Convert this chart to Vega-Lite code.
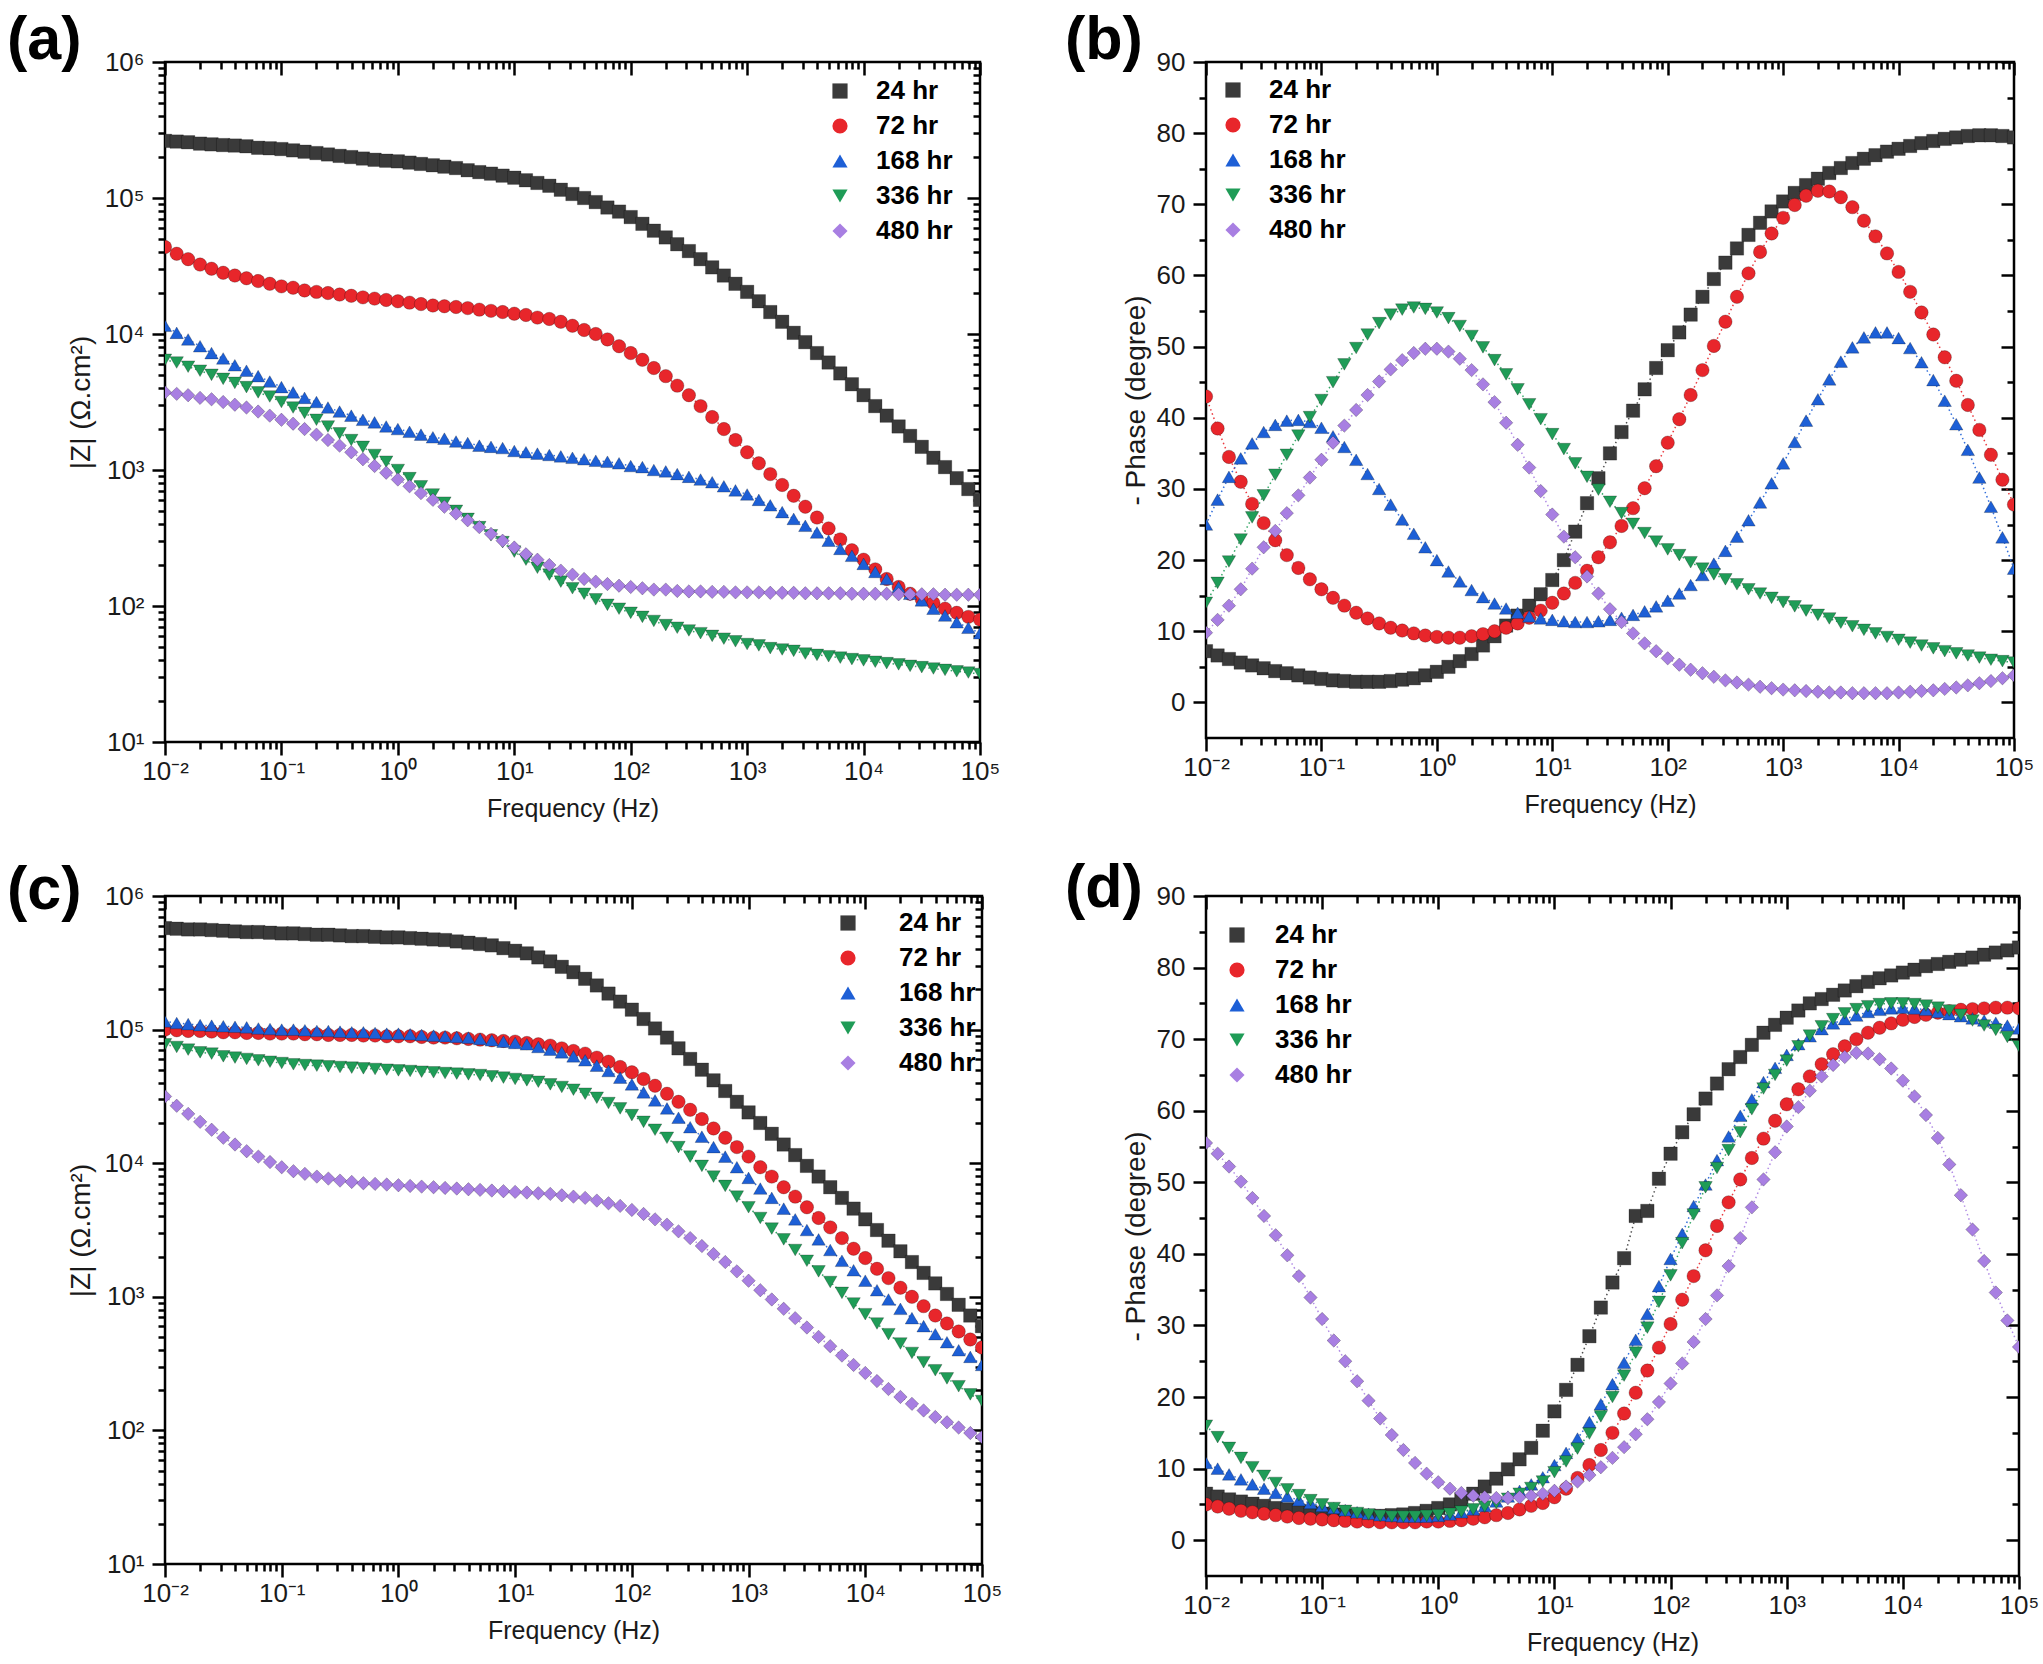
{
  "$schema": "https://vega.github.io/schema/vega-lite/v6.json",
  "usermeta": {"embedOptions": {"actions": false}},
  "background": "white",
  "padding": {"left": 5, "top": 8, "right": 10, "bottom": 10},
  "config": {
    "view": {"stroke": "#000", "strokeWidth": 2.5},
    "font": "Liberation Sans",
    "axis": {"labelFont": "Liberation Sans", "labelFontSize": 26, "labelColor": "#1a1a1a", "titleFont": "Liberation Sans", "titleFontSize": 25, "titleFontWeight": "normal", "titleColor": "#1a1a1a", "tickColor": "#000", "tickWidth": 2.5, "domain": false, "grid": false, "labelOverlap": false, "labelFlush": false, "labelPadding": 8},
    "legend": {"labelFont": "Liberation Sans", "labelFontSize": 26, "labelFontWeight": "bold", "labelColor": "#000", "symbolSize": 230, "symbolStrokeWidth": 0, "padding": 0, "labelLimit": 0, "rowPadding": 9}
  },
  "datasets": {
    "a": [
      {"s":24,"f":0.01,"v":263000},{"s":24,"f":0.0126,"v":260000},{"s":24,"f":0.0158,"v":257000},{"s":24,"f":0.02,"v":251000},{"s":24,"f":0.0251,"v":248000},{"s":24,"f":0.0316,"v":245000},{"s":24,"f":0.0398,"v":243000},{"s":24,"f":0.0501,"v":240000},{"s":24,"f":0.0631,"v":234000},{"s":24,"f":0.0794,"v":232000},
      {"s":24,"f":0.1,"v":229000},{"s":24,"f":0.126,"v":224000},{"s":24,"f":0.158,"v":219000},{"s":24,"f":0.2,"v":214000},{"s":24,"f":0.251,"v":209000},{"s":24,"f":0.316,"v":204000},{"s":24,"f":0.398,"v":200000},{"s":24,"f":0.501,"v":195000},{"s":24,"f":0.631,"v":191000},{"s":24,"f":0.794,"v":188000},
      {"s":24,"f":1,"v":186000},{"s":24,"f":1.26,"v":182000},{"s":24,"f":1.58,"v":178000},{"s":24,"f":2,"v":174000},{"s":24,"f":2.51,"v":170000},{"s":24,"f":3.16,"v":166000},{"s":24,"f":3.98,"v":160000},{"s":24,"f":5.01,"v":155000},{"s":24,"f":6.31,"v":151000},{"s":24,"f":7.94,"v":146000},
      {"s":24,"f":10,"v":141000},{"s":24,"f":12.6,"v":135000},{"s":24,"f":15.8,"v":129000},{"s":24,"f":20,"v":123000},{"s":24,"f":25.1,"v":115000},{"s":24,"f":31.6,"v":107000},{"s":24,"f":39.8,"v":100000},{"s":24,"f":50.1,"v":93300},{"s":24,"f":63.1,"v":85100},{"s":24,"f":79.4,"v":79400},
      {"s":24,"f":100,"v":72400},{"s":24,"f":126,"v":64600},{"s":24,"f":158,"v":57500},{"s":24,"f":200,"v":51300},{"s":24,"f":251,"v":45700},{"s":24,"f":316,"v":40700},{"s":24,"f":398,"v":35500},{"s":24,"f":501,"v":30900},{"s":24,"f":631,"v":26900},{"s":24,"f":794,"v":23400},
      {"s":24,"f":1000,"v":20400},{"s":24,"f":1260,"v":17400},{"s":24,"f":1580,"v":14500},{"s":24,"f":2000,"v":12300},{"s":24,"f":2510,"v":10200},{"s":24,"f":3160,"v":8710},{"s":24,"f":3980,"v":7240},{"s":24,"f":5010,"v":6170},{"s":24,"f":6310,"v":5130},{"s":24,"f":7940,"v":4270},
      {"s":24,"f":10000,"v":3550},{"s":24,"f":12600,"v":2950},{"s":24,"f":15800,"v":2510},{"s":24,"f":20000,"v":2090},{"s":24,"f":25100,"v":1780},{"s":24,"f":31600,"v":1480},{"s":24,"f":39800,"v":1230},{"s":24,"f":50100,"v":1050},{"s":24,"f":63100,"v":871},{"s":24,"f":79400,"v":724},{"s":24,"f":100000,"v":603},
      {"s":72,"f":0.01,"v":43600},{"s":72,"f":0.0126,"v":38900},{"s":72,"f":0.0158,"v":35500},{"s":72,"f":0.02,"v":32400},{"s":72,"f":0.0251,"v":30200},{"s":72,"f":0.0316,"v":28200},{"s":72,"f":0.0398,"v":26900},{"s":72,"f":0.0501,"v":25700},{"s":72,"f":0.0631,"v":24500},{"s":72,"f":0.0794,"v":23400},
      {"s":72,"f":0.1,"v":22400},{"s":72,"f":0.126,"v":21900},{"s":72,"f":0.158,"v":20900},{"s":72,"f":0.2,"v":20400},{"s":72,"f":0.251,"v":20000},{"s":72,"f":0.316,"v":19500},{"s":72,"f":0.398,"v":19100},{"s":72,"f":0.501,"v":18600},{"s":72,"f":0.631,"v":18200},{"s":72,"f":0.794,"v":17800},
      {"s":72,"f":1,"v":17400},{"s":72,"f":1.26,"v":17000},{"s":72,"f":1.58,"v":16600},{"s":72,"f":2,"v":16200},{"s":72,"f":2.51,"v":16000},{"s":72,"f":3.16,"v":15800},{"s":72,"f":3.98,"v":15500},{"s":72,"f":5.01,"v":15100},{"s":72,"f":6.31,"v":14800},{"s":72,"f":7.94,"v":14500},
      {"s":72,"f":10,"v":14100},{"s":72,"f":12.6,"v":13800},{"s":72,"f":15.8,"v":13200},{"s":72,"f":20,"v":12900},{"s":72,"f":25.1,"v":12300},{"s":72,"f":31.6,"v":11500},{"s":72,"f":39.8,"v":10700},{"s":72,"f":50.1,"v":10000},{"s":72,"f":63.1,"v":9120},{"s":72,"f":79.4,"v":8130},
      {"s":72,"f":100,"v":7240},{"s":72,"f":126,"v":6460},{"s":72,"f":158,"v":5620},{"s":72,"f":200,"v":4900},{"s":72,"f":251,"v":4170},{"s":72,"f":316,"v":3550},{"s":72,"f":398,"v":2950},{"s":72,"f":501,"v":2450},{"s":72,"f":631,"v":2000},{"s":72,"f":794,"v":1660},
      {"s":72,"f":1000,"v":1350},{"s":72,"f":1260,"v":1120},{"s":72,"f":1580,"v":933},{"s":72,"f":2000,"v":776},{"s":72,"f":2510,"v":646},{"s":72,"f":3160,"v":537},{"s":72,"f":3980,"v":447},{"s":72,"f":5010,"v":372},{"s":72,"f":6310,"v":309},{"s":72,"f":7940,"v":257},
      {"s":72,"f":10000,"v":219},{"s":72,"f":12600,"v":186},{"s":72,"f":15800,"v":158},{"s":72,"f":20000,"v":138},{"s":72,"f":25100,"v":123},{"s":72,"f":31600,"v":112},{"s":72,"f":39800,"v":105},{"s":72,"f":50100,"v":95.5},{"s":72,"f":63100,"v":89.1},{"s":72,"f":79400,"v":83.2},{"s":72,"f":100000,"v":79.4},
      {"s":168,"f":0.01,"v":11500},{"s":168,"f":0.0126,"v":10200},{"s":168,"f":0.0158,"v":9120},{"s":168,"f":0.02,"v":8130},{"s":168,"f":0.0251,"v":7240},{"s":168,"f":0.0316,"v":6610},{"s":168,"f":0.0398,"v":5890},{"s":168,"f":0.0501,"v":5370},{"s":168,"f":0.0631,"v":4900},{"s":168,"f":0.0794,"v":4470},
      {"s":168,"f":0.1,"v":4070},{"s":168,"f":0.126,"v":3720},{"s":168,"f":0.158,"v":3390},{"s":168,"f":0.2,"v":3160},{"s":168,"f":0.251,"v":2880},{"s":168,"f":0.316,"v":2690},{"s":168,"f":0.398,"v":2510},{"s":168,"f":0.501,"v":2340},{"s":168,"f":0.631,"v":2240},{"s":168,"f":0.794,"v":2090},
      {"s":168,"f":1,"v":2000},{"s":168,"f":1.26,"v":1910},{"s":168,"f":1.58,"v":1820},{"s":168,"f":2,"v":1740},{"s":168,"f":2.51,"v":1700},{"s":168,"f":3.16,"v":1620},{"s":168,"f":3.98,"v":1580},{"s":168,"f":5.01,"v":1510},{"s":168,"f":6.31,"v":1480},{"s":168,"f":7.94,"v":1450},
      {"s":168,"f":10,"v":1380},{"s":168,"f":12.6,"v":1350},{"s":168,"f":15.8,"v":1320},{"s":168,"f":20,"v":1290},{"s":168,"f":25.1,"v":1260},{"s":168,"f":31.6,"v":1230},{"s":168,"f":39.8,"v":1200},{"s":168,"f":50.1,"v":1170},{"s":168,"f":63.1,"v":1150},{"s":168,"f":79.4,"v":1120},
      {"s":168,"f":100,"v":1070},{"s":168,"f":126,"v":1050},{"s":168,"f":158,"v":1000},{"s":168,"f":200,"v":977},{"s":168,"f":251,"v":933},{"s":168,"f":316,"v":891},{"s":168,"f":398,"v":851},{"s":168,"f":501,"v":813},{"s":168,"f":631,"v":759},{"s":168,"f":794,"v":708},
      {"s":168,"f":1000,"v":661},{"s":168,"f":1260,"v":603},{"s":168,"f":1580,"v":550},{"s":168,"f":2000,"v":490},{"s":168,"f":2510,"v":437},{"s":168,"f":3160,"v":389},{"s":168,"f":3980,"v":347},{"s":168,"f":5010,"v":302},{"s":168,"f":6310,"v":263},{"s":168,"f":7940,"v":234},
      {"s":168,"f":10000,"v":204},{"s":168,"f":12600,"v":178},{"s":168,"f":15800,"v":158},{"s":168,"f":20000,"v":138},{"s":168,"f":25100,"v":123},{"s":168,"f":31600,"v":110},{"s":168,"f":39800,"v":95.5},{"s":168,"f":50100,"v":85.1},{"s":168,"f":63100,"v":75.9},{"s":168,"f":79400,"v":69.2},{"s":168,"f":100000,"v":63.1},
      {"s":336,"f":0.01,"v":6460},{"s":336,"f":0.0126,"v":6170},{"s":336,"f":0.0158,"v":5750},{"s":336,"f":0.02,"v":5370},{"s":336,"f":0.0251,"v":5010},{"s":336,"f":0.0316,"v":4680},{"s":336,"f":0.0398,"v":4370},{"s":336,"f":0.0501,"v":4070},{"s":336,"f":0.0631,"v":3720},{"s":336,"f":0.0794,"v":3470},
      {"s":336,"f":0.1,"v":3160},{"s":336,"f":0.126,"v":2880},{"s":336,"f":0.158,"v":2630},{"s":336,"f":0.2,"v":2340},{"s":336,"f":0.251,"v":2090},{"s":336,"f":0.316,"v":1860},{"s":336,"f":0.398,"v":1660},{"s":336,"f":0.501,"v":1480},{"s":336,"f":0.631,"v":1290},{"s":336,"f":0.794,"v":1150},
      {"s":336,"f":1,"v":1000},{"s":336,"f":1.26,"v":871},{"s":336,"f":1.58,"v":759},{"s":336,"f":2,"v":661},{"s":336,"f":2.51,"v":575},{"s":336,"f":3.16,"v":501},{"s":336,"f":3.98,"v":437},{"s":336,"f":5.01,"v":380},{"s":336,"f":6.31,"v":331},{"s":336,"f":7.94,"v":295},
      {"s":336,"f":10,"v":251},{"s":336,"f":12.6,"v":219},{"s":336,"f":15.8,"v":191},{"s":336,"f":20,"v":170},{"s":336,"f":25.1,"v":151},{"s":336,"f":31.6,"v":135},{"s":336,"f":39.8,"v":123},{"s":336,"f":50.1,"v":112},{"s":336,"f":63.1,"v":102},{"s":336,"f":79.4,"v":95.5},
      {"s":336,"f":100,"v":89.1},{"s":336,"f":126,"v":83.2},{"s":336,"f":158,"v":77.6},{"s":336,"f":200,"v":72.4},{"s":336,"f":251,"v":69.2},{"s":336,"f":316,"v":66.1},{"s":336,"f":398,"v":63.1},{"s":336,"f":501,"v":60.3},{"s":336,"f":631,"v":57.5},{"s":336,"f":794,"v":55},
      {"s":336,"f":1000,"v":52.5},{"s":336,"f":1260,"v":51.3},{"s":336,"f":1580,"v":49},{"s":336,"f":2000,"v":47.9},{"s":336,"f":2510,"v":46.8},{"s":336,"f":3160,"v":44.7},{"s":336,"f":3980,"v":43.7},{"s":336,"f":5010,"v":42.7},{"s":336,"f":6310,"v":41.7},{"s":336,"f":7940,"v":40.7},
      {"s":336,"f":10000,"v":39.8},{"s":336,"f":12600,"v":38.9},{"s":336,"f":15800,"v":38},{"s":336,"f":20000,"v":37.2},{"s":336,"f":25100,"v":36.3},{"s":336,"f":31600,"v":35.5},{"s":336,"f":39800,"v":34.7},{"s":336,"f":50100,"v":33.9},{"s":336,"f":63100,"v":33.1},{"s":336,"f":79400,"v":32.4},{"s":336,"f":100000,"v":31.6},
      {"s":480,"f":0.01,"v":3720},{"s":480,"f":0.0126,"v":3630},{"s":480,"f":0.0158,"v":3550},{"s":480,"f":0.02,"v":3390},{"s":480,"f":0.0251,"v":3310},{"s":480,"f":0.0316,"v":3160},{"s":480,"f":0.0398,"v":3020},{"s":480,"f":0.0501,"v":2880},{"s":480,"f":0.0631,"v":2690},{"s":480,"f":0.0794,"v":2510},
      {"s":480,"f":0.1,"v":2340},{"s":480,"f":0.126,"v":2190},{"s":480,"f":0.158,"v":2000},{"s":480,"f":0.2,"v":1820},{"s":480,"f":0.251,"v":1660},{"s":480,"f":0.316,"v":1510},{"s":480,"f":0.398,"v":1350},{"s":480,"f":0.501,"v":1200},{"s":480,"f":0.631,"v":1070},{"s":480,"f":0.794,"v":955},
      {"s":480,"f":1,"v":851},{"s":480,"f":1.26,"v":759},{"s":480,"f":1.58,"v":676},{"s":480,"f":2,"v":603},{"s":480,"f":2.51,"v":537},{"s":480,"f":3.16,"v":479},{"s":480,"f":3.98,"v":427},{"s":480,"f":5.01,"v":380},{"s":480,"f":6.31,"v":339},{"s":480,"f":7.94,"v":302},
      {"s":480,"f":10,"v":269},{"s":480,"f":12.6,"v":240},{"s":480,"f":15.8,"v":219},{"s":480,"f":20,"v":200},{"s":480,"f":25.1,"v":182},{"s":480,"f":31.6,"v":170},{"s":480,"f":39.8,"v":158},{"s":480,"f":50.1,"v":151},{"s":480,"f":63.1,"v":145},{"s":480,"f":79.4,"v":141},
      {"s":480,"f":100,"v":138},{"s":480,"f":126,"v":135},{"s":480,"f":158,"v":132},{"s":480,"f":200,"v":132},{"s":480,"f":251,"v":129},{"s":480,"f":316,"v":128},{"s":480,"f":398,"v":128},{"s":480,"f":501,"v":127},{"s":480,"f":631,"v":127},{"s":480,"f":794,"v":126},
      {"s":480,"f":1000,"v":126},{"s":480,"f":1260,"v":126},{"s":480,"f":1580,"v":125},{"s":480,"f":2000,"v":125},{"s":480,"f":2510,"v":125},{"s":480,"f":3160,"v":124},{"s":480,"f":3980,"v":124},{"s":480,"f":5010,"v":124},{"s":480,"f":6310,"v":124},{"s":480,"f":7940,"v":123},
      {"s":480,"f":10000,"v":123},{"s":480,"f":12600,"v":123},{"s":480,"f":15800,"v":123},{"s":480,"f":20000,"v":122},{"s":480,"f":25100,"v":122},{"s":480,"f":31600,"v":122},{"s":480,"f":39800,"v":122},{"s":480,"f":50100,"v":121},{"s":480,"f":63100,"v":121},{"s":480,"f":79400,"v":121},{"s":480,"f":100000,"v":121}
    ],
    "b": [
      {"s":24,"f":0.01,"v":7.2},{"s":24,"f":0.0126,"v":6.6},{"s":24,"f":0.0158,"v":6.1},{"s":24,"f":0.02,"v":5.6},{"s":24,"f":0.0251,"v":5.2},{"s":24,"f":0.0316,"v":4.8},{"s":24,"f":0.0398,"v":4.4},{"s":24,"f":0.0501,"v":4.1},{"s":24,"f":0.0631,"v":3.8},{"s":24,"f":0.0794,"v":3.5},
      {"s":24,"f":0.1,"v":3.3},{"s":24,"f":0.126,"v":3.1},{"s":24,"f":0.158,"v":3},{"s":24,"f":0.2,"v":2.9},{"s":24,"f":0.251,"v":2.9},{"s":24,"f":0.316,"v":2.9},{"s":24,"f":0.398,"v":3},{"s":24,"f":0.501,"v":3.2},{"s":24,"f":0.631,"v":3.4},{"s":24,"f":0.794,"v":3.8},
      {"s":24,"f":1,"v":4.3},{"s":24,"f":1.26,"v":5},{"s":24,"f":1.58,"v":5.8},{"s":24,"f":2,"v":6.8},{"s":24,"f":2.51,"v":8},{"s":24,"f":3.16,"v":9.3},{"s":24,"f":3.98,"v":10.8},{"s":24,"f":5.01,"v":12.2},{"s":24,"f":6.31,"v":13.6},{"s":24,"f":7.94,"v":15.2},
      {"s":24,"f":10,"v":17.2},{"s":24,"f":12.6,"v":20},{"s":24,"f":15.8,"v":24},{"s":24,"f":20,"v":28},{"s":24,"f":25.1,"v":31.5},{"s":24,"f":31.6,"v":35},{"s":24,"f":39.8,"v":38},{"s":24,"f":50.1,"v":41},{"s":24,"f":63.1,"v":44},{"s":24,"f":79.4,"v":47},
      {"s":24,"f":100,"v":49.5},{"s":24,"f":126,"v":52},{"s":24,"f":158,"v":54.5},{"s":24,"f":200,"v":57},{"s":24,"f":251,"v":59.5},{"s":24,"f":316,"v":61.8},{"s":24,"f":398,"v":63.8},{"s":24,"f":501,"v":65.7},{"s":24,"f":631,"v":67.4},{"s":24,"f":794,"v":69},
      {"s":24,"f":1000,"v":70.4},{"s":24,"f":1260,"v":71.6},{"s":24,"f":1580,"v":72.7},{"s":24,"f":2000,"v":73.6},{"s":24,"f":2510,"v":74.4},{"s":24,"f":3160,"v":75.1},{"s":24,"f":3980,"v":75.8},{"s":24,"f":5010,"v":76.4},{"s":24,"f":6310,"v":76.9},{"s":24,"f":7940,"v":77.4},
      {"s":24,"f":10000,"v":77.8},{"s":24,"f":12600,"v":78.2},{"s":24,"f":15800,"v":78.6},{"s":24,"f":20000,"v":78.9},{"s":24,"f":25100,"v":79.2},{"s":24,"f":31600,"v":79.4},{"s":24,"f":39800,"v":79.6},{"s":24,"f":50100,"v":79.7},{"s":24,"f":63100,"v":79.7},{"s":24,"f":79400,"v":79.6},{"s":24,"f":100000,"v":79.4},
      {"s":72,"f":0.01,"v":43},{"s":72,"f":0.0126,"v":38.5},{"s":72,"f":0.0158,"v":34.5},{"s":72,"f":0.02,"v":31},{"s":72,"f":0.0251,"v":27.9},{"s":72,"f":0.0316,"v":25.2},{"s":72,"f":0.0398,"v":22.8},{"s":72,"f":0.0501,"v":20.7},{"s":72,"f":0.0631,"v":18.9},{"s":72,"f":0.0794,"v":17.3},
      {"s":72,"f":0.1,"v":15.9},{"s":72,"f":0.126,"v":14.7},{"s":72,"f":0.158,"v":13.6},{"s":72,"f":0.2,"v":12.6},{"s":72,"f":0.251,"v":11.8},{"s":72,"f":0.316,"v":11.1},{"s":72,"f":0.398,"v":10.5},{"s":72,"f":0.501,"v":10.1},{"s":72,"f":0.631,"v":9.7},{"s":72,"f":0.794,"v":9.4},
      {"s":72,"f":1,"v":9.2},{"s":72,"f":1.26,"v":9.1},{"s":72,"f":1.58,"v":9.1},{"s":72,"f":2,"v":9.3},{"s":72,"f":2.51,"v":9.6},{"s":72,"f":3.16,"v":10},{"s":72,"f":3.98,"v":10.5},{"s":72,"f":5.01,"v":11.1},{"s":72,"f":6.31,"v":11.9},{"s":72,"f":7.94,"v":12.9},
      {"s":72,"f":10,"v":14},{"s":72,"f":12.6,"v":15.3},{"s":72,"f":15.8,"v":16.8},{"s":72,"f":20,"v":18.5},{"s":72,"f":25.1,"v":20.4},{"s":72,"f":31.6,"v":22.5},{"s":72,"f":39.8,"v":24.8},{"s":72,"f":50.1,"v":27.3},{"s":72,"f":63.1,"v":30.1},{"s":72,"f":79.4,"v":33.2},
      {"s":72,"f":100,"v":36.5},{"s":72,"f":126,"v":39.8},{"s":72,"f":158,"v":43.2},{"s":72,"f":200,"v":46.7},{"s":72,"f":251,"v":50.1},{"s":72,"f":316,"v":53.5},{"s":72,"f":398,"v":57},{"s":72,"f":501,"v":60.3},{"s":72,"f":631,"v":63.3},{"s":72,"f":794,"v":65.9},
      {"s":72,"f":1000,"v":68.1},{"s":72,"f":1260,"v":69.9},{"s":72,"f":1580,"v":71.2},{"s":72,"f":2000,"v":71.9},{"s":72,"f":2510,"v":71.8},{"s":72,"f":3160,"v":71},{"s":72,"f":3980,"v":69.6},{"s":72,"f":5010,"v":67.7},{"s":72,"f":6310,"v":65.5},{"s":72,"f":7940,"v":63.1},
      {"s":72,"f":10000,"v":60.5},{"s":72,"f":12600,"v":57.7},{"s":72,"f":15800,"v":54.8},{"s":72,"f":20000,"v":51.7},{"s":72,"f":25100,"v":48.5},{"s":72,"f":31600,"v":45.2},{"s":72,"f":39800,"v":41.8},{"s":72,"f":50100,"v":38.3},{"s":72,"f":63100,"v":34.8},{"s":72,"f":79400,"v":31.3},{"s":72,"f":100000,"v":27.8},
      {"s":168,"f":0.01,"v":25},{"s":168,"f":0.0126,"v":28.5},{"s":168,"f":0.0158,"v":31.7},{"s":168,"f":0.02,"v":34.3},{"s":168,"f":0.0251,"v":36.4},{"s":168,"f":0.0316,"v":38},{"s":168,"f":0.0398,"v":39},{"s":168,"f":0.0501,"v":39.6},{"s":168,"f":0.0631,"v":39.7},{"s":168,"f":0.0794,"v":39.4},
      {"s":168,"f":0.1,"v":38.6},{"s":168,"f":0.126,"v":37.4},{"s":168,"f":0.158,"v":35.9},{"s":168,"f":0.2,"v":34.1},{"s":168,"f":0.251,"v":32.1},{"s":168,"f":0.316,"v":30},{"s":168,"f":0.398,"v":27.8},{"s":168,"f":0.501,"v":25.7},{"s":168,"f":0.631,"v":23.7},{"s":168,"f":0.794,"v":21.8},
      {"s":168,"f":1,"v":20},{"s":168,"f":1.26,"v":18.4},{"s":168,"f":1.58,"v":17},{"s":168,"f":2,"v":15.8},{"s":168,"f":2.51,"v":14.8},{"s":168,"f":3.16,"v":13.9},{"s":168,"f":3.98,"v":13.2},{"s":168,"f":5.01,"v":12.6},{"s":168,"f":6.31,"v":12.1},{"s":168,"f":7.94,"v":11.8},
      {"s":168,"f":10,"v":11.6},{"s":168,"f":12.6,"v":11.4},{"s":168,"f":15.8,"v":11.3},{"s":168,"f":20,"v":11.3},{"s":168,"f":25.1,"v":11.4},{"s":168,"f":31.6,"v":11.6},{"s":168,"f":39.8,"v":11.9},{"s":168,"f":50.1,"v":12.3},{"s":168,"f":63.1,"v":12.8},{"s":168,"f":79.4,"v":13.5},
      {"s":168,"f":100,"v":14.3},{"s":168,"f":126,"v":15.3},{"s":168,"f":158,"v":16.5},{"s":168,"f":200,"v":17.9},{"s":168,"f":251,"v":19.5},{"s":168,"f":316,"v":21.3},{"s":168,"f":398,"v":23.3},{"s":168,"f":501,"v":25.6},{"s":168,"f":631,"v":28.1},{"s":168,"f":794,"v":30.8},
      {"s":168,"f":1000,"v":33.6},{"s":168,"f":1260,"v":36.6},{"s":168,"f":1580,"v":39.6},{"s":168,"f":2000,"v":42.6},{"s":168,"f":2510,"v":45.4},{"s":168,"f":3160,"v":47.9},{"s":168,"f":3980,"v":49.9},{"s":168,"f":5010,"v":51.3},{"s":168,"f":6310,"v":52},{"s":168,"f":7940,"v":52},
      {"s":168,"f":10000,"v":51.2},{"s":168,"f":12600,"v":49.8},{"s":168,"f":15800,"v":47.8},{"s":168,"f":20000,"v":45.3},{"s":168,"f":25100,"v":42.4},{"s":168,"f":31600,"v":39.1},{"s":168,"f":39800,"v":35.5},{"s":168,"f":50100,"v":31.6},{"s":168,"f":63100,"v":27.5},{"s":168,"f":79400,"v":23.2},{"s":168,"f":100000,"v":18.8},
      {"s":336,"f":0.01,"v":14},{"s":336,"f":0.0126,"v":16.8},{"s":336,"f":0.0158,"v":19.8},{"s":336,"f":0.02,"v":22.9},{"s":336,"f":0.0251,"v":26},{"s":336,"f":0.0316,"v":29.1},{"s":336,"f":0.0398,"v":32},{"s":336,"f":0.0501,"v":34.8},{"s":336,"f":0.0631,"v":37.5},{"s":336,"f":0.0794,"v":40.1},
      {"s":336,"f":0.1,"v":42.5},{"s":336,"f":0.126,"v":45},{"s":336,"f":0.158,"v":47.5},{"s":336,"f":0.2,"v":49.8},{"s":336,"f":0.251,"v":51.7},{"s":336,"f":0.316,"v":53.3},{"s":336,"f":0.398,"v":54.5},{"s":336,"f":0.501,"v":55.2},{"s":336,"f":0.631,"v":55.5},{"s":336,"f":0.794,"v":55.3},
      {"s":336,"f":1,"v":54.8},{"s":336,"f":1.26,"v":54},{"s":336,"f":1.58,"v":52.9},{"s":336,"f":2,"v":51.5},{"s":336,"f":2.51,"v":49.9},{"s":336,"f":3.16,"v":48.1},{"s":336,"f":3.98,"v":46.1},{"s":336,"f":5.01,"v":44},{"s":336,"f":6.31,"v":41.9},{"s":336,"f":7.94,"v":39.8},
      {"s":336,"f":10,"v":37.7},{"s":336,"f":12.6,"v":35.6},{"s":336,"f":15.8,"v":33.6},{"s":336,"f":20,"v":31.7},{"s":336,"f":25.1,"v":29.9},{"s":336,"f":31.6,"v":28.2},{"s":336,"f":39.8,"v":26.6},{"s":336,"f":50.1,"v":25.1},{"s":336,"f":63.1,"v":23.8},{"s":336,"f":79.4,"v":22.6},
      {"s":336,"f":100,"v":21.5},{"s":336,"f":126,"v":20.7},{"s":336,"f":158,"v":19.7},{"s":336,"f":200,"v":18.8},{"s":336,"f":251,"v":18},{"s":336,"f":316,"v":17.3},{"s":336,"f":398,"v":16.6},{"s":336,"f":501,"v":15.9},{"s":336,"f":631,"v":15.3},{"s":336,"f":794,"v":14.7},
      {"s":336,"f":1000,"v":14.1},{"s":336,"f":1260,"v":13.5},{"s":336,"f":1580,"v":12.9},{"s":336,"f":2000,"v":12.3},{"s":336,"f":2510,"v":11.8},{"s":336,"f":3160,"v":11.2},{"s":336,"f":3980,"v":10.7},{"s":336,"f":5010,"v":10.2},{"s":336,"f":6310,"v":9.7},{"s":336,"f":7940,"v":9.2},
      {"s":336,"f":10000,"v":8.8},{"s":336,"f":12600,"v":8.4},{"s":336,"f":15800,"v":8},{"s":336,"f":20000,"v":7.6},{"s":336,"f":25100,"v":7.2},{"s":336,"f":31600,"v":6.9},{"s":336,"f":39800,"v":6.6},{"s":336,"f":50100,"v":6.3},{"s":336,"f":63100,"v":6},{"s":336,"f":79400,"v":5.8},{"s":336,"f":100000,"v":5.6},
      {"s":480,"f":0.01,"v":9.8},{"s":480,"f":0.0126,"v":11.6},{"s":480,"f":0.0158,"v":13.6},{"s":480,"f":0.02,"v":15.9},{"s":480,"f":0.0251,"v":18.8},{"s":480,"f":0.0316,"v":21.8},{"s":480,"f":0.0398,"v":24.1},{"s":480,"f":0.0501,"v":26.6},{"s":480,"f":0.0631,"v":29.1},{"s":480,"f":0.0794,"v":31.6},
      {"s":480,"f":0.1,"v":34.1},{"s":480,"f":0.126,"v":36.5},{"s":480,"f":0.158,"v":38.9},{"s":480,"f":0.2,"v":41.1},{"s":480,"f":0.251,"v":43.2},{"s":480,"f":0.316,"v":45.1},{"s":480,"f":0.398,"v":46.8},{"s":480,"f":0.501,"v":48.1},{"s":480,"f":0.631,"v":49.1},{"s":480,"f":0.794,"v":49.7},
      {"s":480,"f":1,"v":49.7},{"s":480,"f":1.26,"v":49.3},{"s":480,"f":1.58,"v":48.3},{"s":480,"f":2,"v":46.7},{"s":480,"f":2.51,"v":44.7},{"s":480,"f":3.16,"v":42.2},{"s":480,"f":3.98,"v":39.3},{"s":480,"f":5.01,"v":36.2},{"s":480,"f":6.31,"v":33},{"s":480,"f":7.94,"v":29.7},
      {"s":480,"f":10,"v":26.4},{"s":480,"f":12.6,"v":23.3},{"s":480,"f":15.8,"v":20.4},{"s":480,"f":20,"v":17.7},{"s":480,"f":25.1,"v":15.3},{"s":480,"f":31.6,"v":13.1},{"s":480,"f":39.8,"v":11.3},{"s":480,"f":50.1,"v":9.7},{"s":480,"f":63.1,"v":8.3},{"s":480,"f":79.4,"v":7.2},
      {"s":480,"f":100,"v":6.2},{"s":480,"f":126,"v":5.3},{"s":480,"f":158,"v":4.6},{"s":480,"f":200,"v":4.1},{"s":480,"f":251,"v":3.6},{"s":480,"f":316,"v":3.1},{"s":480,"f":398,"v":2.8},{"s":480,"f":501,"v":2.5},{"s":480,"f":631,"v":2.2},{"s":480,"f":794,"v":2},
      {"s":480,"f":1000,"v":1.8},{"s":480,"f":1260,"v":1.7},{"s":480,"f":1580,"v":1.6},{"s":480,"f":2000,"v":1.5},{"s":480,"f":2510,"v":1.4},{"s":480,"f":3160,"v":1.4},{"s":480,"f":3980,"v":1.3},{"s":480,"f":5010,"v":1.3},{"s":480,"f":6310,"v":1.3},{"s":480,"f":7940,"v":1.3},
      {"s":480,"f":10000,"v":1.4},{"s":480,"f":12600,"v":1.5},{"s":480,"f":15800,"v":1.6},{"s":480,"f":20000,"v":1.7},{"s":480,"f":25100,"v":1.9},{"s":480,"f":31600,"v":2.1},{"s":480,"f":39800,"v":2.4},{"s":480,"f":50100,"v":2.7},{"s":480,"f":63100,"v":3},{"s":480,"f":79400,"v":3.4},{"s":480,"f":100000,"v":3.8}
    ],
    "c": [
      {"s":24,"f":0.01,"v":575000},{"s":24,"f":0.0126,"v":569000},{"s":24,"f":0.0158,"v":562000},{"s":24,"f":0.02,"v":562000},{"s":24,"f":0.0251,"v":556000},{"s":24,"f":0.0316,"v":550000},{"s":24,"f":0.0398,"v":543000},{"s":24,"f":0.0501,"v":537000},{"s":24,"f":0.0631,"v":537000},{"s":24,"f":0.0794,"v":531000},
      {"s":24,"f":0.1,"v":525000},{"s":24,"f":0.126,"v":525000},{"s":24,"f":0.158,"v":519000},{"s":24,"f":0.2,"v":513000},{"s":24,"f":0.251,"v":513000},{"s":24,"f":0.316,"v":507000},{"s":24,"f":0.398,"v":501000},{"s":24,"f":0.501,"v":501000},{"s":24,"f":0.631,"v":495000},{"s":24,"f":0.794,"v":490000},
      {"s":24,"f":1,"v":490000},{"s":24,"f":1.26,"v":484000},{"s":24,"f":1.58,"v":479000},{"s":24,"f":2,"v":473000},{"s":24,"f":2.51,"v":468000},{"s":24,"f":3.16,"v":457000},{"s":24,"f":3.98,"v":447000},{"s":24,"f":5.01,"v":437000},{"s":24,"f":6.31,"v":427000},{"s":24,"f":7.94,"v":407000},
      {"s":24,"f":10,"v":389000},{"s":24,"f":12.6,"v":372000},{"s":24,"f":15.8,"v":347000},{"s":24,"f":20,"v":324000},{"s":24,"f":25.1,"v":295000},{"s":24,"f":31.6,"v":269000},{"s":24,"f":39.8,"v":240000},{"s":24,"f":50.1,"v":214000},{"s":24,"f":63.1,"v":186000},{"s":24,"f":79.4,"v":162000},
      {"s":24,"f":100,"v":141000},{"s":24,"f":126,"v":120000},{"s":24,"f":158,"v":102000},{"s":24,"f":200,"v":87100},{"s":24,"f":251,"v":72400},{"s":24,"f":316,"v":60300},{"s":24,"f":398,"v":50100},{"s":24,"f":501,"v":41700},{"s":24,"f":631,"v":34700},{"s":24,"f":794,"v":28800},
      {"s":24,"f":1000,"v":24000},{"s":24,"f":1260,"v":20000},{"s":24,"f":1580,"v":16600},{"s":24,"f":2000,"v":13800},{"s":24,"f":2510,"v":11500},{"s":24,"f":3160,"v":9550},{"s":24,"f":3980,"v":7940},{"s":24,"f":5010,"v":6610},{"s":24,"f":6310,"v":5500},{"s":24,"f":7940,"v":4570},
      {"s":24,"f":10000,"v":3800},{"s":24,"f":12600,"v":3160},{"s":24,"f":15800,"v":2630},{"s":24,"f":20000,"v":2190},{"s":24,"f":25100,"v":1820},{"s":24,"f":31600,"v":1510},{"s":24,"f":39800,"v":1260},{"s":24,"f":50100,"v":1050},{"s":24,"f":63100,"v":871},{"s":24,"f":79400,"v":724},{"s":24,"f":100000,"v":603},
      {"s":72,"f":0.01,"v":100000},{"s":72,"f":0.0126,"v":98900},{"s":72,"f":0.0158,"v":97700},{"s":72,"f":0.02,"v":97700},{"s":72,"f":0.0251,"v":96600},{"s":72,"f":0.0316,"v":95500},{"s":72,"f":0.0398,"v":95500},{"s":72,"f":0.0501,"v":94400},{"s":72,"f":0.0631,"v":94400},{"s":72,"f":0.0794,"v":93300},
      {"s":72,"f":0.1,"v":93300},{"s":72,"f":0.126,"v":93300},{"s":72,"f":0.158,"v":92300},{"s":72,"f":0.2,"v":92300},{"s":72,"f":0.251,"v":91200},{"s":72,"f":0.316,"v":91200},{"s":72,"f":0.398,"v":91200},{"s":72,"f":0.501,"v":90200},{"s":72,"f":0.631,"v":90200},{"s":72,"f":0.794,"v":89100},
      {"s":72,"f":1,"v":89100},{"s":72,"f":1.26,"v":89100},{"s":72,"f":1.58,"v":88100},{"s":72,"f":2,"v":87100},{"s":72,"f":2.51,"v":87100},{"s":72,"f":3.16,"v":86100},{"s":72,"f":3.98,"v":85100},{"s":72,"f":5.01,"v":84100},{"s":72,"f":6.31,"v":83200},{"s":72,"f":7.94,"v":82200},
      {"s":72,"f":10,"v":81300},{"s":72,"f":12.6,"v":79400},{"s":72,"f":15.8,"v":77600},{"s":72,"f":20,"v":75900},{"s":72,"f":25.1,"v":72400},{"s":72,"f":31.6,"v":69200},{"s":72,"f":39.8,"v":66100},{"s":72,"f":50.1,"v":61700},{"s":72,"f":63.1,"v":57500},{"s":72,"f":79.4,"v":52500},
      {"s":72,"f":100,"v":47900},{"s":72,"f":126,"v":42700},{"s":72,"f":158,"v":38000},{"s":72,"f":200,"v":33100},{"s":72,"f":251,"v":28800},{"s":72,"f":316,"v":25100},{"s":72,"f":398,"v":21400},{"s":72,"f":501,"v":18200},{"s":72,"f":631,"v":15500},{"s":72,"f":794,"v":13200},
      {"s":72,"f":1000,"v":11200},{"s":72,"f":1260,"v":9330},{"s":72,"f":1580,"v":7940},{"s":72,"f":2000,"v":6610},{"s":72,"f":2510,"v":5620},{"s":72,"f":3160,"v":4680},{"s":72,"f":3980,"v":3890},{"s":72,"f":5010,"v":3310},{"s":72,"f":6310,"v":2750},{"s":72,"f":7940,"v":2290},
      {"s":72,"f":10000,"v":1950},{"s":72,"f":12600,"v":1620},{"s":72,"f":15800,"v":1380},{"s":72,"f":20000,"v":1170},{"s":72,"f":25100,"v":1000},{"s":72,"f":31600,"v":851},{"s":72,"f":39800,"v":724},{"s":72,"f":50100,"v":631},{"s":72,"f":63100,"v":550},{"s":72,"f":79400,"v":479},{"s":72,"f":100000,"v":417},
      {"s":168,"f":0.01,"v":115000},{"s":168,"f":0.0126,"v":112000},{"s":168,"f":0.0158,"v":110000},{"s":168,"f":0.02,"v":108000},{"s":168,"f":0.0251,"v":107000},{"s":168,"f":0.0316,"v":106000},{"s":168,"f":0.0398,"v":105000},{"s":168,"f":0.0501,"v":104000},{"s":168,"f":0.0631,"v":102000},{"s":168,"f":0.0794,"v":101000},
      {"s":168,"f":0.1,"v":100000},{"s":168,"f":0.126,"v":100000},{"s":168,"f":0.158,"v":98900},{"s":168,"f":0.2,"v":97700},{"s":168,"f":0.251,"v":97700},{"s":168,"f":0.316,"v":96600},{"s":168,"f":0.398,"v":95500},{"s":168,"f":0.501,"v":95500},{"s":168,"f":0.631,"v":94400},{"s":168,"f":0.794,"v":93300},
      {"s":168,"f":1,"v":93300},{"s":168,"f":1.26,"v":92300},{"s":168,"f":1.58,"v":91200},{"s":168,"f":2,"v":90200},{"s":168,"f":2.51,"v":89100},{"s":168,"f":3.16,"v":88100},{"s":168,"f":3.98,"v":87100},{"s":168,"f":5.01,"v":85100},{"s":168,"f":6.31,"v":83200},{"s":168,"f":7.94,"v":81300},
      {"s":168,"f":10,"v":79400},{"s":168,"f":12.6,"v":77600},{"s":168,"f":15.8,"v":74100},{"s":168,"f":20,"v":70800},{"s":168,"f":25.1,"v":67600},{"s":168,"f":31.6,"v":63100},{"s":168,"f":39.8,"v":58900},{"s":168,"f":50.1,"v":53700},{"s":168,"f":63.1,"v":49000},{"s":168,"f":79.4,"v":43700},
      {"s":168,"f":100,"v":38900},{"s":168,"f":126,"v":33900},{"s":168,"f":158,"v":29500},{"s":168,"f":200,"v":25700},{"s":168,"f":251,"v":21900},{"s":168,"f":316,"v":18600},{"s":168,"f":398,"v":15800},{"s":168,"f":501,"v":13200},{"s":168,"f":631,"v":11200},{"s":168,"f":794,"v":9330},
      {"s":168,"f":1000,"v":7760},{"s":168,"f":1260,"v":6460},{"s":168,"f":1580,"v":5500},{"s":168,"f":2000,"v":4570},{"s":168,"f":2510,"v":3800},{"s":168,"f":3160,"v":3160},{"s":168,"f":3980,"v":2690},{"s":168,"f":5010,"v":2240},{"s":168,"f":6310,"v":1860},{"s":168,"f":7940,"v":1580},
      {"s":168,"f":10000,"v":1320},{"s":168,"f":12600,"v":1120},{"s":168,"f":15800,"v":955},{"s":168,"f":20000,"v":813},{"s":168,"f":25100,"v":692},{"s":168,"f":31600,"v":603},{"s":168,"f":39800,"v":525},{"s":168,"f":50100,"v":457},{"s":168,"f":63100,"v":398},{"s":168,"f":79400,"v":355},{"s":168,"f":100000,"v":309},
      {"s":336,"f":0.01,"v":77600},{"s":336,"f":0.0126,"v":74100},{"s":336,"f":0.0158,"v":70800},{"s":336,"f":0.02,"v":67600},{"s":336,"f":0.0251,"v":66100},{"s":336,"f":0.0316,"v":63100},{"s":336,"f":0.0398,"v":61700},{"s":336,"f":0.0501,"v":60300},{"s":336,"f":0.0631,"v":58900},{"s":336,"f":0.0794,"v":57500},
      {"s":336,"f":0.1,"v":56200},{"s":336,"f":0.126,"v":55000},{"s":336,"f":0.158,"v":54300},{"s":336,"f":0.2,"v":53700},{"s":336,"f":0.251,"v":53100},{"s":336,"f":0.316,"v":52500},{"s":336,"f":0.398,"v":51900},{"s":336,"f":0.501,"v":51300},{"s":336,"f":0.631,"v":50700},{"s":336,"f":0.794,"v":50100},
      {"s":336,"f":1,"v":49500},{"s":336,"f":1.26,"v":49000},{"s":336,"f":1.58,"v":48400},{"s":336,"f":2,"v":47900},{"s":336,"f":2.51,"v":47300},{"s":336,"f":3.16,"v":46800},{"s":336,"f":3.98,"v":46200},{"s":336,"f":5.01,"v":45700},{"s":336,"f":6.31,"v":44700},{"s":336,"f":7.94,"v":43700},
      {"s":336,"f":10,"v":42700},{"s":336,"f":12.6,"v":41700},{"s":336,"f":15.8,"v":40700},{"s":336,"f":20,"v":38900},{"s":336,"f":25.1,"v":37200},{"s":336,"f":31.6,"v":35500},{"s":336,"f":39.8,"v":33100},{"s":336,"f":50.1,"v":30900},{"s":336,"f":63.1,"v":28200},{"s":336,"f":79.4,"v":25700},
      {"s":336,"f":100,"v":22900},{"s":336,"f":126,"v":20400},{"s":336,"f":158,"v":17800},{"s":336,"f":200,"v":15500},{"s":336,"f":251,"v":13200},{"s":336,"f":316,"v":11200},{"s":336,"f":398,"v":9550},{"s":336,"f":501,"v":7940},{"s":336,"f":631,"v":6760},{"s":336,"f":794,"v":5620},
      {"s":336,"f":1000,"v":4680},{"s":336,"f":1260,"v":3890},{"s":336,"f":1580,"v":3240},{"s":336,"f":2000,"v":2690},{"s":336,"f":2510,"v":2240},{"s":336,"f":3160,"v":1860},{"s":336,"f":3980,"v":1550},{"s":336,"f":5010,"v":1290},{"s":336,"f":6310,"v":1070},{"s":336,"f":7940,"v":891},
      {"s":336,"f":10000,"v":741},{"s":336,"f":12600,"v":631},{"s":336,"f":15800,"v":525},{"s":336,"f":20000,"v":447},{"s":336,"f":25100,"v":380},{"s":336,"f":31600,"v":324},{"s":336,"f":39800,"v":282},{"s":336,"f":50100,"v":245},{"s":336,"f":63100,"v":214},{"s":336,"f":79400,"v":186},{"s":336,"f":100000,"v":166},
      {"s":480,"f":0.01,"v":31600},{"s":480,"f":0.0126,"v":26900},{"s":480,"f":0.0158,"v":23400},{"s":480,"f":0.02,"v":20400},{"s":480,"f":0.0251,"v":17800},{"s":480,"f":0.0316,"v":15500},{"s":480,"f":0.0398,"v":13800},{"s":480,"f":0.0501,"v":12300},{"s":480,"f":0.0631,"v":11200},{"s":480,"f":0.0794,"v":10200},
      {"s":480,"f":0.1,"v":9330},{"s":480,"f":0.126,"v":8710},{"s":480,"f":0.158,"v":8320},{"s":480,"f":0.2,"v":7940},{"s":480,"f":0.251,"v":7670},{"s":480,"f":0.316,"v":7410},{"s":480,"f":0.398,"v":7240},{"s":480,"f":0.501,"v":7080},{"s":480,"f":0.631,"v":7000},{"s":480,"f":0.794,"v":6920},
      {"s":480,"f":1,"v":6840},{"s":480,"f":1.26,"v":6760},{"s":480,"f":1.58,"v":6680},{"s":480,"f":2,"v":6610},{"s":480,"f":2.51,"v":6530},{"s":480,"f":3.16,"v":6460},{"s":480,"f":3.98,"v":6380},{"s":480,"f":5.01,"v":6310},{"s":480,"f":6.31,"v":6240},{"s":480,"f":7.94,"v":6170},
      {"s":480,"f":10,"v":6100},{"s":480,"f":12.6,"v":6030},{"s":480,"f":15.8,"v":5960},{"s":480,"f":20,"v":5890},{"s":480,"f":25.1,"v":5750},{"s":480,"f":31.6,"v":5620},{"s":480,"f":39.8,"v":5500},{"s":480,"f":50.1,"v":5250},{"s":480,"f":63.1,"v":5010},{"s":480,"f":79.4,"v":4790},
      {"s":480,"f":100,"v":4470},{"s":480,"f":126,"v":4170},{"s":480,"f":158,"v":3800},{"s":480,"f":200,"v":3470},{"s":480,"f":251,"v":3090},{"s":480,"f":316,"v":2750},{"s":480,"f":398,"v":2400},{"s":480,"f":501,"v":2090},{"s":480,"f":631,"v":1820},{"s":480,"f":794,"v":1550},
      {"s":480,"f":1000,"v":1320},{"s":480,"f":1260,"v":1120},{"s":480,"f":1580,"v":955},{"s":480,"f":2000,"v":813},{"s":480,"f":2510,"v":692},{"s":480,"f":3160,"v":589},{"s":480,"f":3980,"v":501},{"s":480,"f":5010,"v":427},{"s":480,"f":6310,"v":363},{"s":480,"f":7940,"v":309},
      {"s":480,"f":10000,"v":269},{"s":480,"f":12600,"v":234},{"s":480,"f":15800,"v":204},{"s":480,"f":20000,"v":178},{"s":480,"f":25100,"v":158},{"s":480,"f":31600,"v":141},{"s":480,"f":39800,"v":126},{"s":480,"f":50100,"v":115},{"s":480,"f":63100,"v":105},{"s":480,"f":79400,"v":95.5},{"s":480,"f":100000,"v":89.1}
    ],
    "d": [
      {"s":24,"f":0.01,"v":6.5},{"s":24,"f":0.0126,"v":6.1},{"s":24,"f":0.0158,"v":5.7},{"s":24,"f":0.02,"v":5.4},{"s":24,"f":0.0251,"v":5.1},{"s":24,"f":0.0316,"v":4.8},{"s":24,"f":0.0398,"v":4.5},{"s":24,"f":0.0501,"v":4.3},{"s":24,"f":0.0631,"v":4.1},{"s":24,"f":0.0794,"v":3.9},
      {"s":24,"f":0.1,"v":3.7},{"s":24,"f":0.126,"v":3.6},{"s":24,"f":0.158,"v":3.5},{"s":24,"f":0.2,"v":3.4},{"s":24,"f":0.251,"v":3.4},{"s":24,"f":0.316,"v":3.4},{"s":24,"f":0.398,"v":3.5},{"s":24,"f":0.501,"v":3.6},{"s":24,"f":0.631,"v":3.8},{"s":24,"f":0.794,"v":4.1},
      {"s":24,"f":1,"v":4.5},{"s":24,"f":1.26,"v":5},{"s":24,"f":1.58,"v":5.7},{"s":24,"f":2,"v":6.5},{"s":24,"f":2.51,"v":7.5},{"s":24,"f":3.16,"v":8.6},{"s":24,"f":3.98,"v":9.9},{"s":24,"f":5.01,"v":11.3},{"s":24,"f":6.31,"v":12.9},{"s":24,"f":7.94,"v":15.3},
      {"s":24,"f":10,"v":18},{"s":24,"f":12.6,"v":21},{"s":24,"f":15.8,"v":24.5},{"s":24,"f":20,"v":28.5},{"s":24,"f":25.1,"v":32.5},{"s":24,"f":31.6,"v":36},{"s":24,"f":39.8,"v":39.4},{"s":24,"f":50.1,"v":45.3},{"s":24,"f":63.1,"v":46},{"s":24,"f":79.4,"v":50.5},
      {"s":24,"f":100,"v":54},{"s":24,"f":126,"v":57},{"s":24,"f":158,"v":59.5},{"s":24,"f":200,"v":61.7},{"s":24,"f":251,"v":63.8},{"s":24,"f":316,"v":65.8},{"s":24,"f":398,"v":67.5},{"s":24,"f":501,"v":69.2},{"s":24,"f":631,"v":70.9},{"s":24,"f":794,"v":72},
      {"s":24,"f":1000,"v":73},{"s":24,"f":1260,"v":74},{"s":24,"f":1580,"v":75},{"s":24,"f":2000,"v":75.6},{"s":24,"f":2510,"v":76.2},{"s":24,"f":3160,"v":76.8},{"s":24,"f":3980,"v":77.4},{"s":24,"f":5010,"v":78},{"s":24,"f":6310,"v":78.5},{"s":24,"f":7940,"v":78.9},
      {"s":24,"f":10000,"v":79.3},{"s":24,"f":12600,"v":79.7},{"s":24,"f":15800,"v":80.2},{"s":24,"f":20000,"v":80.5},{"s":24,"f":25100,"v":80.8},{"s":24,"f":31600,"v":81.1},{"s":24,"f":39800,"v":81.4},{"s":24,"f":50100,"v":81.8},{"s":24,"f":63100,"v":82.1},{"s":24,"f":79400,"v":82.4},{"s":24,"f":100000,"v":82.8},
      {"s":72,"f":0.01,"v":5},{"s":72,"f":0.0126,"v":4.7},{"s":72,"f":0.0158,"v":4.4},{"s":72,"f":0.02,"v":4.1},{"s":72,"f":0.0251,"v":3.9},{"s":72,"f":0.0316,"v":3.7},{"s":72,"f":0.0398,"v":3.5},{"s":72,"f":0.0501,"v":3.3},{"s":72,"f":0.0631,"v":3.1},{"s":72,"f":0.0794,"v":3},
      {"s":72,"f":0.1,"v":2.9},{"s":72,"f":0.126,"v":2.8},{"s":72,"f":0.158,"v":2.7},{"s":72,"f":0.2,"v":2.6},{"s":72,"f":0.251,"v":2.6},{"s":72,"f":0.316,"v":2.5},{"s":72,"f":0.398,"v":2.5},{"s":72,"f":0.501,"v":2.5},{"s":72,"f":0.631,"v":2.5},{"s":72,"f":0.794,"v":2.6},
      {"s":72,"f":1,"v":2.6},{"s":72,"f":1.26,"v":2.7},{"s":72,"f":1.58,"v":2.8},{"s":72,"f":2,"v":3},{"s":72,"f":2.51,"v":3.2},{"s":72,"f":3.16,"v":3.5},{"s":72,"f":3.98,"v":3.8},{"s":72,"f":5.01,"v":4.3},{"s":72,"f":6.31,"v":4.8},{"s":72,"f":7.94,"v":5.2},
      {"s":72,"f":10,"v":6},{"s":72,"f":12.6,"v":7.2},{"s":72,"f":15.8,"v":8.7},{"s":72,"f":20,"v":10.5},{"s":72,"f":25.1,"v":12.6},{"s":72,"f":31.6,"v":15},{"s":72,"f":39.8,"v":17.7},{"s":72,"f":50.1,"v":20.6},{"s":72,"f":63.1,"v":23.7},{"s":72,"f":79.4,"v":26.9},
      {"s":72,"f":100,"v":30.2},{"s":72,"f":126,"v":33.6},{"s":72,"f":158,"v":36.9},{"s":72,"f":200,"v":40.5},{"s":72,"f":251,"v":43.9},{"s":72,"f":316,"v":47.2},{"s":72,"f":398,"v":50.4},{"s":72,"f":501,"v":53.4},{"s":72,"f":631,"v":56.1},{"s":72,"f":794,"v":58.6},
      {"s":72,"f":1000,"v":60.9},{"s":72,"f":1260,"v":63},{"s":72,"f":1580,"v":64.8},{"s":72,"f":2000,"v":66.5},{"s":72,"f":2510,"v":67.9},{"s":72,"f":3160,"v":69},{"s":72,"f":3980,"v":70},{"s":72,"f":5010,"v":70.9},{"s":72,"f":6310,"v":71.6},{"s":72,"f":7940,"v":72.2},
      {"s":72,"f":10000,"v":72.7},{"s":72,"f":12600,"v":73.1},{"s":72,"f":15800,"v":73.4},{"s":72,"f":20000,"v":73.7},{"s":72,"f":25100,"v":73.9},{"s":72,"f":31600,"v":74.1},{"s":72,"f":39800,"v":74.2},{"s":72,"f":50100,"v":74.3},{"s":72,"f":63100,"v":74.4},{"s":72,"f":79400,"v":74.4},{"s":72,"f":100000,"v":74.3},
      {"s":168,"f":0.01,"v":10.8},{"s":168,"f":0.0126,"v":10},{"s":168,"f":0.0158,"v":9.2},{"s":168,"f":0.02,"v":8.5},{"s":168,"f":0.0251,"v":7.8},{"s":168,"f":0.0316,"v":7.2},{"s":168,"f":0.0398,"v":6.6},{"s":168,"f":0.0501,"v":6.1},{"s":168,"f":0.0631,"v":5.6},{"s":168,"f":0.0794,"v":5.2},
      {"s":168,"f":0.1,"v":4.8},{"s":168,"f":0.126,"v":4.5},{"s":168,"f":0.158,"v":4.2},{"s":168,"f":0.2,"v":3.9},{"s":168,"f":0.251,"v":3.7},{"s":168,"f":0.316,"v":3.5},{"s":168,"f":0.398,"v":3.4},{"s":168,"f":0.501,"v":3.3},{"s":168,"f":0.631,"v":3.3},{"s":168,"f":0.794,"v":3.3},
      {"s":168,"f":1,"v":3.4},{"s":168,"f":1.26,"v":3.6},{"s":168,"f":1.58,"v":3.9},{"s":168,"f":2,"v":4.3},{"s":168,"f":2.51,"v":4.8},{"s":168,"f":3.16,"v":5.4},{"s":168,"f":3.98,"v":6.1},{"s":168,"f":5.01,"v":6.9},{"s":168,"f":6.31,"v":7.8},{"s":168,"f":7.94,"v":8.8},
      {"s":168,"f":10,"v":10.5},{"s":168,"f":12.6,"v":12.2},{"s":168,"f":15.8,"v":14.2},{"s":168,"f":20,"v":16.5},{"s":168,"f":25.1,"v":19},{"s":168,"f":31.6,"v":21.8},{"s":168,"f":39.8,"v":24.8},{"s":168,"f":50.1,"v":28},{"s":168,"f":63.1,"v":31.6},{"s":168,"f":79.4,"v":35.5},
      {"s":168,"f":100,"v":39.3},{"s":168,"f":126,"v":42.8},{"s":168,"f":158,"v":46.7},{"s":168,"f":200,"v":49.7},{"s":168,"f":251,"v":53.1},{"s":168,"f":316,"v":56.4},{"s":168,"f":398,"v":59.3},{"s":168,"f":501,"v":61.6},{"s":168,"f":631,"v":64},{"s":168,"f":794,"v":66},
      {"s":168,"f":1000,"v":67.8},{"s":168,"f":1260,"v":69.3},{"s":168,"f":1580,"v":70.4},{"s":168,"f":2000,"v":71.4},{"s":168,"f":2510,"v":72.2},{"s":168,"f":3160,"v":72.8},{"s":168,"f":3980,"v":73.3},{"s":168,"f":5010,"v":73.8},{"s":168,"f":6310,"v":74.1},{"s":168,"f":7940,"v":74.3},
      {"s":168,"f":10000,"v":74.4},{"s":168,"f":12600,"v":74.3},{"s":168,"f":15800,"v":74.1},{"s":168,"f":20000,"v":73.8},{"s":168,"f":25100,"v":73.5},{"s":168,"f":31600,"v":73.2},{"s":168,"f":39800,"v":72.9},{"s":168,"f":50100,"v":72.6},{"s":168,"f":63100,"v":72.3},{"s":168,"f":79400,"v":71.9},{"s":168,"f":100000,"v":71.5},
      {"s":336,"f":0.01,"v":16},{"s":336,"f":0.0126,"v":14.4},{"s":336,"f":0.0158,"v":12.9},{"s":336,"f":0.02,"v":11.5},{"s":336,"f":0.0251,"v":10.2},{"s":336,"f":0.0316,"v":9},{"s":336,"f":0.0398,"v":8},{"s":336,"f":0.0501,"v":7.1},{"s":336,"f":0.0631,"v":6.3},{"s":336,"f":0.0794,"v":5.6},
      {"s":336,"f":0.1,"v":5},{"s":336,"f":0.126,"v":4.5},{"s":336,"f":0.158,"v":4.1},{"s":336,"f":0.2,"v":3.8},{"s":336,"f":0.251,"v":3.6},{"s":336,"f":0.316,"v":3.4},{"s":336,"f":0.398,"v":3.3},{"s":336,"f":0.501,"v":3.3},{"s":336,"f":0.631,"v":3.3},{"s":336,"f":0.794,"v":3.4},
      {"s":336,"f":1,"v":3.5},{"s":336,"f":1.26,"v":3.7},{"s":336,"f":1.58,"v":4},{"s":336,"f":2,"v":4.3},{"s":336,"f":2.51,"v":4.7},{"s":336,"f":3.16,"v":5.2},{"s":336,"f":3.98,"v":5.8},{"s":336,"f":5.01,"v":6.5},{"s":336,"f":6.31,"v":7.3},{"s":336,"f":7.94,"v":8.2},
      {"s":336,"f":10,"v":9.5},{"s":336,"f":12.6,"v":11},{"s":336,"f":15.8,"v":12.8},{"s":336,"f":20,"v":14.9},{"s":336,"f":25.1,"v":17.3},{"s":336,"f":31.6,"v":20},{"s":336,"f":39.8,"v":23},{"s":336,"f":50.1,"v":26.2},{"s":336,"f":63.1,"v":29.7},{"s":336,"f":79.4,"v":33.3},
      {"s":336,"f":100,"v":37},{"s":336,"f":126,"v":41.5},{"s":336,"f":158,"v":45.5},{"s":336,"f":200,"v":49.3},{"s":336,"f":251,"v":52},{"s":336,"f":316,"v":54.5},{"s":336,"f":398,"v":57},{"s":336,"f":501,"v":60.2},{"s":336,"f":631,"v":63.1},{"s":336,"f":794,"v":65},
      {"s":336,"f":1000,"v":67},{"s":336,"f":1260,"v":69},{"s":336,"f":1580,"v":70.5},{"s":336,"f":2000,"v":71.8},{"s":336,"f":2510,"v":72.8},{"s":336,"f":3160,"v":73.6},{"s":336,"f":3980,"v":74.2},{"s":336,"f":5010,"v":74.6},{"s":336,"f":6310,"v":74.9},{"s":336,"f":7940,"v":75},
      {"s":336,"f":10000,"v":75},{"s":336,"f":12600,"v":74.9},{"s":336,"f":15800,"v":74.7},{"s":336,"f":20000,"v":74.4},{"s":336,"f":25100,"v":74},{"s":336,"f":31600,"v":73.4},{"s":336,"f":39800,"v":72.6},{"s":336,"f":50100,"v":71.9},{"s":336,"f":63100,"v":71.3},{"s":336,"f":79400,"v":70.3},{"s":336,"f":100000,"v":69},
      {"s":480,"f":0.01,"v":55.5},{"s":480,"f":0.0126,"v":54},{"s":480,"f":0.0158,"v":52.2},{"s":480,"f":0.02,"v":50.1},{"s":480,"f":0.0251,"v":47.8},{"s":480,"f":0.0316,"v":45.3},{"s":480,"f":0.0398,"v":42.6},{"s":480,"f":0.0501,"v":39.8},{"s":480,"f":0.0631,"v":36.9},{"s":480,"f":0.0794,"v":33.9},
      {"s":480,"f":0.1,"v":30.9},{"s":480,"f":0.126,"v":27.9},{"s":480,"f":0.158,"v":25},{"s":480,"f":0.2,"v":22.2},{"s":480,"f":0.251,"v":19.5},{"s":480,"f":0.316,"v":17},{"s":480,"f":0.398,"v":14.7},{"s":480,"f":0.501,"v":12.6},{"s":480,"f":0.631,"v":10.8},{"s":480,"f":0.794,"v":9.3},
      {"s":480,"f":1,"v":8.1},{"s":480,"f":1.26,"v":7.2},{"s":480,"f":1.58,"v":6.6},{"s":480,"f":2,"v":6.2},{"s":480,"f":2.51,"v":6},{"s":480,"f":3.16,"v":5.9},{"s":480,"f":3.98,"v":5.9},{"s":480,"f":5.01,"v":6},{"s":480,"f":6.31,"v":6.2},{"s":480,"f":7.94,"v":6.5},
      {"s":480,"f":10,"v":6.9},{"s":480,"f":12.6,"v":7.5},{"s":480,"f":15.8,"v":8.2},{"s":480,"f":20,"v":9.1},{"s":480,"f":25.1,"v":10.2},{"s":480,"f":31.6,"v":11.5},{"s":480,"f":39.8,"v":13},{"s":480,"f":50.1,"v":14.8},{"s":480,"f":63.1,"v":16.9},{"s":480,"f":79.4,"v":19.3},
      {"s":480,"f":100,"v":21.9},{"s":480,"f":126,"v":24.7},{"s":480,"f":158,"v":27.7},{"s":480,"f":200,"v":30.9},{"s":480,"f":251,"v":34.2},{"s":480,"f":316,"v":38.3},{"s":480,"f":398,"v":42.2},{"s":480,"f":501,"v":46.5},{"s":480,"f":631,"v":50.4},{"s":480,"f":794,"v":54.2},
      {"s":480,"f":1000,"v":57.8},{"s":480,"f":1260,"v":60.5},{"s":480,"f":1580,"v":62.8},{"s":480,"f":2000,"v":64.8},{"s":480,"f":2510,"v":66.4},{"s":480,"f":3160,"v":67.5},{"s":480,"f":3980,"v":68.1},{"s":480,"f":5010,"v":68},{"s":480,"f":6310,"v":67.2},{"s":480,"f":7940,"v":65.9},
      {"s":480,"f":10000,"v":64.2},{"s":480,"f":12600,"v":62},{"s":480,"f":15800,"v":59.4},{"s":480,"f":20000,"v":56.2},{"s":480,"f":25100,"v":52.5},{"s":480,"f":31600,"v":48.2},{"s":480,"f":39800,"v":43.4},{"s":480,"f":50100,"v":39},{"s":480,"f":63100,"v":34.6},{"s":480,"f":79400,"v":30.7},{"s":480,"f":100000,"v":27}
    ]
  },
  "resolve": {"scale": {"color": "independent", "shape": "independent", "stroke": "independent"}},
  "bounds": "flush",
  "columns": 2,
  "spacing": {"row": 154, "column": 224},
  "concat": [
    {
      "width": 815,
      "height": 680,
      "title": {"text": "(a)", "anchor": "start", "frame": "group", "dx": -158, "dy": 27, "offset": 4, "fontSize": 61, "fontWeight": "bold", "font": "Liberation Sans", "color": "#000"},
      "data": {"name": "a"},
      "layer": [
        {
          "mark": {"type": "line", "strokeWidth": 1.5, "strokeDash": [1.5, 3], "opacity": 0.9, "clip": true},
          "encoding": {
            "x": {"field": "f", "type": "quantitative", "scale": {"type": "log", "domain": [0.01, 100000], "nice": false},
              "axis": {"orient": "bottom", "title": "Frequency (Hz)", "titlePadding": 12, "labelPadding": 3,
                "values": [0.01,0.02,0.03,0.04,0.05,0.06,0.07,0.08,0.09,0.1,0.2,0.3,0.4,0.5,0.6,0.7,0.8,0.9,1,2,3,4,5,6,7,8,9,10,20,30,40,50,60,70,80,90,100,200,300,400,500,600,700,800,900,1000,2000,3000,4000,5000,6000,7000,8000,9000,10000,20000,30000,40000,50000,60000,70000,80000,90000,100000],
                "labelExpr": "abs(log(datum.value)/LN10-round(log(datum.value)/LN10))<0.001 ? '10' + ['⁻²','⁻¹','⁰','¹','²','³','⁴','⁵','⁶'][round(log(datum.value)/LN10)+2] : ''",
                "tickSize": {"condition": {"test": "abs(log(datum.value)/LN10-round(log(datum.value)/LN10))<0.001", "value": 13}, "value": 7}}},
            "y": {"field": "v", "type": "quantitative", "scale": {"type": "log", "domain": [10, 1000000], "nice": false},
              "axis": {"orient": "left", "title": "|Z| (Ω.cm²)", "titleFontSize": 28, "titlePadding": 8,
                "values": [10,20,30,40,50,60,70,80,90,100,200,300,400,500,600,700,800,900,1000,2000,3000,4000,5000,6000,7000,8000,9000,10000,20000,30000,40000,50000,60000,70000,80000,90000,100000,200000,300000,400000,500000,600000,700000,800000,900000,1000000],
                "labelExpr": "abs(log(datum.value)/LN10-round(log(datum.value)/LN10))<0.001 ? '10' + ['⁻²','⁻¹','⁰','¹','²','³','⁴','⁵','⁶'][round(log(datum.value)/LN10)+2] : ''",
                "tickSize": {"condition": {"test": "abs(log(datum.value)/LN10-round(log(datum.value)/LN10))<0.001", "value": 13}, "value": 7}}},
            "stroke": {"field": "s", "type": "nominal", "scale": {"domain": [480, 336, 168, 72, 24], "range": ["#a87fe2", "#1f9c57", "#1d5fd6", "#e8262b", "#3a3a3a"]}, "legend": null}
          }
        },
        {
          "mark": {"type": "point", "filled": true, "size": 180, "opacity": 1, "stroke": "#000", "strokeWidth": 0.7, "strokeOpacity": 0.35, "clip": true},
          "encoding": {
            "x": {"field": "f", "type": "quantitative", "scale": {"type": "log", "domain": [0.01, 100000], "nice": false}, "axis": null},
            "y": {"field": "v", "type": "quantitative", "scale": {"type": "log", "domain": [10, 1000000], "nice": false}, "axis": null},
            "color": {"field": "s", "type": "nominal", "scale": {"domain": [24, 72, 168, 336, 480], "range": ["#3a3a3a", "#e8262b", "#1d5fd6", "#1f9c57", "#a87fe2"]},
              "legend": {"orient": "none", "legendX": 662, "legendY": 16, "title": null, "labelExpr": "datum.label + ' hr'", "labelOffset": 23}},
            "shape": {"field": "s", "type": "nominal", "scale": {"domain": [24, 72, 168, 336, 480], "range": ["square", "circle", "triangle-up", "triangle-down", "diamond"]},
              "legend": {"orient": "none", "legendX": 662, "legendY": 16, "title": null, "labelExpr": "datum.label + ' hr'", "labelOffset": 23}}
          }
        },
        {
          "mark": {"type": "point", "opacity": 0},
          "encoding": {
            "x": {"field": "f", "type": "quantitative", "scale": {"type": "log", "domain": [0.01, 100000], "nice": false},
              "axis": {"orient": "top", "title": null, "labels": false,
                "values": [0.01,0.02,0.03,0.04,0.05,0.06,0.07,0.08,0.09,0.1,0.2,0.3,0.4,0.5,0.6,0.7,0.8,0.9,1,2,3,4,5,6,7,8,9,10,20,30,40,50,60,70,80,90,100,200,300,400,500,600,700,800,900,1000,2000,3000,4000,5000,6000,7000,8000,9000,10000,20000,30000,40000,50000,60000,70000,80000,90000,100000],
                "tickSize": {"condition": {"test": "abs(log(datum.value)/LN10-round(log(datum.value)/LN10))<0.001", "value": -13}, "value": -7}}},
            "y": {"field": "v", "type": "quantitative", "scale": {"type": "log", "domain": [10, 1000000], "nice": false},
              "axis": {"orient": "right", "title": null, "labels": false,
                "values": [10,20,30,40,50,60,70,80,90,100,200,300,400,500,600,700,800,900,1000,2000,3000,4000,5000,6000,7000,8000,9000,10000,20000,30000,40000,50000,60000,70000,80000,90000,100000,200000,300000,400000,500000,600000,700000,800000,900000,1000000],
                "tickSize": {"condition": {"test": "abs(log(datum.value)/LN10-round(log(datum.value)/LN10))<0.001", "value": -13}, "value": -7}}}
          }
        }
      ]
    },
    {
      "width": 808,
      "height": 676,
      "title": {"text": "(b)", "anchor": "start", "frame": "group", "dx": -141, "dy": 27, "offset": 4, "fontSize": 61, "fontWeight": "bold", "font": "Liberation Sans", "color": "#000"},
      "data": {"name": "b"},
      "layer": [
        {
          "mark": {"type": "line", "strokeWidth": 1.5, "strokeDash": [1.5, 3], "opacity": 0.9, "clip": true},
          "encoding": {
            "x": {"field": "f", "type": "quantitative", "scale": {"type": "log", "domain": [0.01, 100000], "nice": false},
              "axis": {"orient": "bottom", "title": "Frequency (Hz)", "titlePadding": 12, "labelPadding": 3,
                "values": [0.01,0.02,0.03,0.04,0.05,0.06,0.07,0.08,0.09,0.1,0.2,0.3,0.4,0.5,0.6,0.7,0.8,0.9,1,2,3,4,5,6,7,8,9,10,20,30,40,50,60,70,80,90,100,200,300,400,500,600,700,800,900,1000,2000,3000,4000,5000,6000,7000,8000,9000,10000,20000,30000,40000,50000,60000,70000,80000,90000,100000],
                "labelExpr": "abs(log(datum.value)/LN10-round(log(datum.value)/LN10))<0.001 ? '10' + ['⁻²','⁻¹','⁰','¹','²','³','⁴','⁵','⁶'][round(log(datum.value)/LN10)+2] : ''",
                "tickSize": {"condition": {"test": "abs(log(datum.value)/LN10-round(log(datum.value)/LN10))<0.001", "value": 13}, "value": 7}}},
            "y": {"field": "v", "type": "quantitative", "scale": {"domain": [-5, 90], "nice": false, "zero": false},
              "axis": {"orient": "left", "title": "- Phase (degree)", "titleFontSize": 28, "titlePadding": 6,
                "values": [0,5,10,15,20,25,30,35,40,45,50,55,60,65,70,75,80,85,90],
                "labelExpr": "datum.value % 10 == 0 ? datum.label : ''",
                "tickSize": {"condition": {"test": "datum.value % 10 == 0", "value": 13}, "value": 7}}},
            "stroke": {"field": "s", "type": "nominal", "scale": {"domain": [480, 336, 168, 72, 24], "range": ["#a87fe2", "#1f9c57", "#1d5fd6", "#e8262b", "#3a3a3a"]}, "legend": null}
          }
        },
        {
          "mark": {"type": "point", "filled": true, "size": 180, "opacity": 1, "stroke": "#000", "strokeWidth": 0.7, "strokeOpacity": 0.35, "clip": true},
          "encoding": {
            "x": {"field": "f", "type": "quantitative", "scale": {"type": "log", "domain": [0.01, 100000], "nice": false}, "axis": null},
            "y": {"field": "v", "type": "quantitative", "scale": {"domain": [-5, 90], "nice": false, "zero": false}, "axis": null},
            "color": {"field": "s", "type": "nominal", "scale": {"domain": [24, 72, 168, 336, 480], "range": ["#3a3a3a", "#e8262b", "#1d5fd6", "#1f9c57", "#a87fe2"]},
              "legend": {"orient": "none", "legendX": 14, "legendY": 15, "title": null, "labelExpr": "datum.label + ' hr'", "labelOffset": 23}},
            "shape": {"field": "s", "type": "nominal", "scale": {"domain": [24, 72, 168, 336, 480], "range": ["square", "circle", "triangle-up", "triangle-down", "diamond"]},
              "legend": {"orient": "none", "legendX": 14, "legendY": 15, "title": null, "labelExpr": "datum.label + ' hr'", "labelOffset": 23}}
          }
        },
        {
          "mark": {"type": "point", "opacity": 0},
          "encoding": {
            "x": {"field": "f", "type": "quantitative", "scale": {"type": "log", "domain": [0.01, 100000], "nice": false},
              "axis": {"orient": "top", "title": null, "labels": false,
                "values": [0.01,0.02,0.03,0.04,0.05,0.06,0.07,0.08,0.09,0.1,0.2,0.3,0.4,0.5,0.6,0.7,0.8,0.9,1,2,3,4,5,6,7,8,9,10,20,30,40,50,60,70,80,90,100,200,300,400,500,600,700,800,900,1000,2000,3000,4000,5000,6000,7000,8000,9000,10000,20000,30000,40000,50000,60000,70000,80000,90000,100000],
                "tickSize": {"condition": {"test": "abs(log(datum.value)/LN10-round(log(datum.value)/LN10))<0.001", "value": -13}, "value": -7}}},
            "y": {"field": "v", "type": "quantitative", "scale": {"domain": [-5, 90], "nice": false, "zero": false},
              "axis": {"orient": "right", "title": null, "labels": false,
                "values": [0,5,10,15,20,25,30,35,40,45,50,55,60,65,70,75,80,85,90],
                "tickSize": {"condition": {"test": "datum.value % 10 == 0", "value": -13}, "value": -7}}}
          }
        }
      ]
    },
    {
      "width": 817,
      "height": 668,
      "title": {"text": "(c)", "anchor": "start", "frame": "group", "dx": -158, "dy": 43, "offset": 4, "fontSize": 61, "fontWeight": "bold", "font": "Liberation Sans", "color": "#000"},
      "data": {"name": "c"},
      "layer": [
        {
          "mark": {"type": "line", "strokeWidth": 1.5, "strokeDash": [1.5, 3], "opacity": 0.9, "clip": true},
          "encoding": {
            "x": {"field": "f", "type": "quantitative", "scale": {"type": "log", "domain": [0.01, 100000], "nice": false},
              "axis": {"orient": "bottom", "title": "Frequency (Hz)", "titlePadding": 12, "labelPadding": 3,
                "values": [0.01,0.02,0.03,0.04,0.05,0.06,0.07,0.08,0.09,0.1,0.2,0.3,0.4,0.5,0.6,0.7,0.8,0.9,1,2,3,4,5,6,7,8,9,10,20,30,40,50,60,70,80,90,100,200,300,400,500,600,700,800,900,1000,2000,3000,4000,5000,6000,7000,8000,9000,10000,20000,30000,40000,50000,60000,70000,80000,90000,100000],
                "labelExpr": "abs(log(datum.value)/LN10-round(log(datum.value)/LN10))<0.001 ? '10' + ['⁻²','⁻¹','⁰','¹','²','³','⁴','⁵','⁶'][round(log(datum.value)/LN10)+2] : ''",
                "tickSize": {"condition": {"test": "abs(log(datum.value)/LN10-round(log(datum.value)/LN10))<0.001", "value": 13}, "value": 7}}},
            "y": {"field": "v", "type": "quantitative", "scale": {"type": "log", "domain": [10, 1000000], "nice": false},
              "axis": {"orient": "left", "title": "|Z| (Ω.cm²)", "titleFontSize": 28, "titlePadding": 8,
                "values": [10,20,30,40,50,60,70,80,90,100,200,300,400,500,600,700,800,900,1000,2000,3000,4000,5000,6000,7000,8000,9000,10000,20000,30000,40000,50000,60000,70000,80000,90000,100000,200000,300000,400000,500000,600000,700000,800000,900000,1000000],
                "labelExpr": "abs(log(datum.value)/LN10-round(log(datum.value)/LN10))<0.001 ? '10' + ['⁻²','⁻¹','⁰','¹','²','³','⁴','⁵','⁶'][round(log(datum.value)/LN10)+2] : ''",
                "tickSize": {"condition": {"test": "abs(log(datum.value)/LN10-round(log(datum.value)/LN10))<0.001", "value": 13}, "value": 7}}},
            "stroke": {"field": "s", "type": "nominal", "scale": {"domain": [480, 336, 168, 72, 24], "range": ["#a87fe2", "#1f9c57", "#1d5fd6", "#e8262b", "#3a3a3a"]}, "legend": null}
          }
        },
        {
          "mark": {"type": "point", "filled": true, "size": 180, "opacity": 1, "stroke": "#000", "strokeWidth": 0.7, "strokeOpacity": 0.35, "clip": true},
          "encoding": {
            "x": {"field": "f", "type": "quantitative", "scale": {"type": "log", "domain": [0.01, 100000], "nice": false}, "axis": null},
            "y": {"field": "v", "type": "quantitative", "scale": {"type": "log", "domain": [10, 1000000], "nice": false}, "axis": null},
            "color": {"field": "s", "type": "nominal", "scale": {"domain": [24, 72, 168, 336, 480], "range": ["#3a3a3a", "#e8262b", "#1d5fd6", "#1f9c57", "#a87fe2"]},
              "legend": {"orient": "none", "legendX": 670, "legendY": 14, "title": null, "labelExpr": "datum.label + ' hr'", "labelOffset": 38}},
            "shape": {"field": "s", "type": "nominal", "scale": {"domain": [24, 72, 168, 336, 480], "range": ["square", "circle", "triangle-up", "triangle-down", "diamond"]},
              "legend": {"orient": "none", "legendX": 670, "legendY": 14, "title": null, "labelExpr": "datum.label + ' hr'", "labelOffset": 38}}
          }
        },
        {
          "mark": {"type": "point", "opacity": 0},
          "encoding": {
            "x": {"field": "f", "type": "quantitative", "scale": {"type": "log", "domain": [0.01, 100000], "nice": false},
              "axis": {"orient": "top", "title": null, "labels": false,
                "values": [0.01,0.02,0.03,0.04,0.05,0.06,0.07,0.08,0.09,0.1,0.2,0.3,0.4,0.5,0.6,0.7,0.8,0.9,1,2,3,4,5,6,7,8,9,10,20,30,40,50,60,70,80,90,100,200,300,400,500,600,700,800,900,1000,2000,3000,4000,5000,6000,7000,8000,9000,10000,20000,30000,40000,50000,60000,70000,80000,90000,100000],
                "tickSize": {"condition": {"test": "abs(log(datum.value)/LN10-round(log(datum.value)/LN10))<0.001", "value": -13}, "value": -7}}},
            "y": {"field": "v", "type": "quantitative", "scale": {"type": "log", "domain": [10, 1000000], "nice": false},
              "axis": {"orient": "right", "title": null, "labels": false,
                "values": [10,20,30,40,50,60,70,80,90,100,200,300,400,500,600,700,800,900,1000,2000,3000,4000,5000,6000,7000,8000,9000,10000,20000,30000,40000,50000,60000,70000,80000,90000,100000,200000,300000,400000,500000,600000,700000,800000,900000,1000000],
                "tickSize": {"condition": {"test": "abs(log(datum.value)/LN10-round(log(datum.value)/LN10))<0.001", "value": -13}, "value": -7}}}
          }
        }
      ]
    },
    {
      "width": 813,
      "height": 680,
      "title": {"text": "(d)", "anchor": "start", "frame": "group", "dx": -141, "dy": 41, "offset": 4, "fontSize": 61, "fontWeight": "bold", "font": "Liberation Sans", "color": "#000"},
      "data": {"name": "d"},
      "layer": [
        {
          "mark": {"type": "line", "strokeWidth": 1.5, "strokeDash": [1.5, 3], "opacity": 0.9, "clip": true},
          "encoding": {
            "x": {"field": "f", "type": "quantitative", "scale": {"type": "log", "domain": [0.01, 100000], "nice": false},
              "axis": {"orient": "bottom", "title": "Frequency (Hz)", "titlePadding": 12, "labelPadding": 3,
                "values": [0.01,0.02,0.03,0.04,0.05,0.06,0.07,0.08,0.09,0.1,0.2,0.3,0.4,0.5,0.6,0.7,0.8,0.9,1,2,3,4,5,6,7,8,9,10,20,30,40,50,60,70,80,90,100,200,300,400,500,600,700,800,900,1000,2000,3000,4000,5000,6000,7000,8000,9000,10000,20000,30000,40000,50000,60000,70000,80000,90000,100000],
                "labelExpr": "abs(log(datum.value)/LN10-round(log(datum.value)/LN10))<0.001 ? '10' + ['⁻²','⁻¹','⁰','¹','²','³','⁴','⁵','⁶'][round(log(datum.value)/LN10)+2] : ''",
                "tickSize": {"condition": {"test": "abs(log(datum.value)/LN10-round(log(datum.value)/LN10))<0.001", "value": 13}, "value": 7}}},
            "y": {"field": "v", "type": "quantitative", "scale": {"domain": [-5, 90], "nice": false, "zero": false},
              "axis": {"orient": "left", "title": "- Phase (degree)", "titleFontSize": 28, "titlePadding": 6,
                "values": [0,5,10,15,20,25,30,35,40,45,50,55,60,65,70,75,80,85,90],
                "labelExpr": "datum.value % 10 == 0 ? datum.label : ''",
                "tickSize": {"condition": {"test": "datum.value % 10 == 0", "value": 13}, "value": 7}}},
            "stroke": {"field": "s", "type": "nominal", "scale": {"domain": [480, 336, 168, 72, 24], "range": ["#a87fe2", "#1f9c57", "#1d5fd6", "#e8262b", "#3a3a3a"]}, "legend": null}
          }
        },
        {
          "mark": {"type": "point", "filled": true, "size": 180, "opacity": 1, "stroke": "#000", "strokeWidth": 0.7, "strokeOpacity": 0.35, "clip": true},
          "encoding": {
            "x": {"field": "f", "type": "quantitative", "scale": {"type": "log", "domain": [0.01, 100000], "nice": false}, "axis": null},
            "y": {"field": "v", "type": "quantitative", "scale": {"domain": [-5, 90], "nice": false, "zero": false}, "axis": null},
            "color": {"field": "s", "type": "nominal", "scale": {"domain": [24, 72, 168, 336, 480], "range": ["#3a3a3a", "#e8262b", "#1d5fd6", "#1f9c57", "#a87fe2"]},
              "legend": {"orient": "none", "legendX": 18, "legendY": 26, "title": null, "labelExpr": "datum.label + ' hr'", "labelOffset": 25}},
            "shape": {"field": "s", "type": "nominal", "scale": {"domain": [24, 72, 168, 336, 480], "range": ["square", "circle", "triangle-up", "triangle-down", "diamond"]},
              "legend": {"orient": "none", "legendX": 18, "legendY": 26, "title": null, "labelExpr": "datum.label + ' hr'", "labelOffset": 25}}
          }
        },
        {
          "mark": {"type": "point", "opacity": 0},
          "encoding": {
            "x": {"field": "f", "type": "quantitative", "scale": {"type": "log", "domain": [0.01, 100000], "nice": false},
              "axis": {"orient": "top", "title": null, "labels": false,
                "values": [0.01,0.02,0.03,0.04,0.05,0.06,0.07,0.08,0.09,0.1,0.2,0.3,0.4,0.5,0.6,0.7,0.8,0.9,1,2,3,4,5,6,7,8,9,10,20,30,40,50,60,70,80,90,100,200,300,400,500,600,700,800,900,1000,2000,3000,4000,5000,6000,7000,8000,9000,10000,20000,30000,40000,50000,60000,70000,80000,90000,100000],
                "tickSize": {"condition": {"test": "abs(log(datum.value)/LN10-round(log(datum.value)/LN10))<0.001", "value": -13}, "value": -7}}},
            "y": {"field": "v", "type": "quantitative", "scale": {"domain": [-5, 90], "nice": false, "zero": false},
              "axis": {"orient": "right", "title": null, "labels": false,
                "values": [0,5,10,15,20,25,30,35,40,45,50,55,60,65,70,75,80,85,90],
                "tickSize": {"condition": {"test": "datum.value % 10 == 0", "value": -13}, "value": -7}}}
          }
        }
      ]
    }
  ]
}
